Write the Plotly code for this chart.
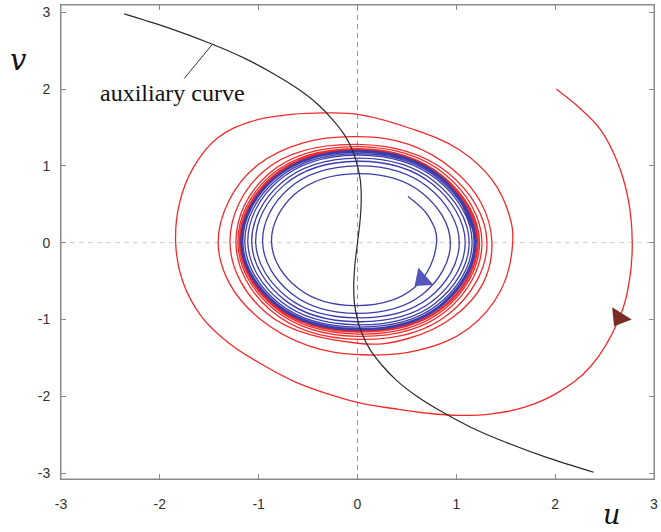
import plotly.graph_objects as go

# ---- phase-plane trajectories (u, v), clockwise ----
# inner trajectory spiralling out onto the limit cycle
blue_u = [0.51, 0.72, 0.80,
          0.580, 0, -0.598, -0.87, -0.633, 0, 0.651, 0.94,
          0.665, 0, -0.665, -0.96, -0.700, 0, 0.718, 1.03,
          0.721, 0, -0.711, -1.03, -0.746, 0, 0.760, 1.09,
          0.760, 0, -0.742, -1.07, -0.774, 0, 0.788, 1.13,
          0.788, 0, -0.771, -1.11, -0.803, 0, 0.813, 1.16,
          0.810, 0, -0.792, -1.14, -0.820, 0, 0.827, 1.18,
          0.824, 0, -0.806, -1.16, -0.834, 0, 0.838, 1.19,
          0.831, 0, -0.813, -1.17, -0.841, 0, 0.845, 1.20,
          0.838, 0, -0.820, -1.18, -0.845, 0, 0.852, 1.21]
blue_v = [0.60, 0.34, 0.0,
          -0.580, -0.82, -0.598, 0, 0.633, 0.90, 0.651, 0,
          -0.665, -0.92, -0.665, 0, 0.700, 1.00, 0.718, 0,
          -0.721, -0.98, -0.711, 0, 0.746, 1.06, 0.760, 0,
          -0.760, -1.03, -0.742, 0, 0.774, 1.10, 0.788, 0,
          -0.788, -1.07, -0.771, 0, 0.803, 1.14, 0.813, 0,
          -0.810, -1.10, -0.792, 0, 0.820, 1.16, 0.827, 0,
          -0.824, -1.12, -0.806, 0, 0.834, 1.18, 0.838, 0,
          -0.831, -1.13, -0.813, 0, 0.841, 1.19, 0.845, 0,
          -0.838, -1.14, -0.820, 0, 0.845, 1.20, 0.852, 0]

# outer trajectory from (2, 2) spiralling in onto the limit cycle
red_u = [2.01, 2.25, 2.46, 2.63, 2.74, 2.78, 2.75, 2.65, 2.36, 2.03, 1.70, 1.36,
         1.03, 0.70, 0.36, 0.03, -0.30, -0.62, -0.96, -1.30, -1.58, -1.77, -1.84,
         -1.80, -1.66, -1.42, -1.07, -0.67, -0.30, 0.03, 0.53, 1.03, 1.36, 1.53, 1.57,
         1.45, 1.12, 0.62, 0.05, -0.50, -0.99, -1.30, -1.41, -1.30, -1.01, -0.55,
         0.0, 0.52, 0.96, 1.25, 1.36,
         1.27, 0.969, 0.52, 0, -0.919, -1.29, -0.940, 0, 0.912, 1.31,
         0.926, 0, -0.880, -1.23, -0.898, 0, 0.887, 1.26,
         0.894, 0, -0.856, -1.21, -0.877, 0, 0.866, 1.235,
         0.873, 0, -0.841, -1.195, -0.863, 0, 0.859, 1.22,
         0.859, 0, -0.831, -1.19, -0.856, 0, 0.856, 1.215,
         0.852, 0, -0.827, -1.185, -0.852, 0, 0.852, 1.21,
         0.849, 0, -0.824, -1.18, -0.849, 0, 0.852, 1.21]
red_v = [2.00, 1.75, 1.47, 1.05, 0.56, 0.0, -0.50, -0.98, -1.61, -1.95, -2.14, -2.23,
         -2.25, -2.22, -2.16, -2.09, -1.97, -1.82, -1.59, -1.31, -0.96, -0.50, 0.0,
         0.52, 0.98, 1.36, 1.58, 1.67, 1.69, 1.665, 1.49, 1.21, 0.82, 0.38, 0.0,
         -0.62, -1.12, -1.40, -1.46, -1.34, -0.99, -0.52, 0.0, 0.55, 1.01, 1.30,
         1.38, 1.28, 0.96, 0.52, 0.0,
         -0.53, -0.969, -1.245, -1.31, -0.919, 0, 0.940, 1.28, 0.912, 0,
         -0.926, -1.26, -0.880, 0, 0.898, 1.25, 0.887, 0,
         -0.894, -1.22, -0.856, 0, 0.877, 1.225, 0.866, 0,
         -0.873, -1.19, -0.841, 0, 0.863, 1.215, 0.859, 0,
         -0.859, -1.165, -0.831, 0, 0.856, 1.205, 0.856, 0,
         -0.852, -1.15, -0.827, 0, 0.852, 1.20, 0.852, 0,
         -0.849, -1.145, -0.824, 0, 0.849, 1.20, 0.852, 0]

# auxiliary curve
aux_u = [-2.36, -1.92, -1.50, -1.14, -0.85, -0.60, -0.40, -0.25, -0.13, -0.05, 0.0,
         0.03, 0.038, 0.027, 0.0, -0.027, -0.038, -0.03, 0.0, 0.05, 0.13, 0.25,
         0.40, 0.60, 0.85, 1.14, 1.50, 1.92, 2.39]
aux_v = [2.98, 2.8, 2.6, 2.4, 2.2, 2.0, 1.8, 1.6, 1.4, 1.2, 1.0,
         0.8, 0.58, 0.3, 0.0, -0.3, -0.58, -0.8, -1.0, -1.2, -1.4, -1.6,
         -1.8, -2.0, -2.2, -2.4, -2.6, -2.8, -2.99]

# direction arrows on the trajectories: position and heading (deg, clockwise from up)
arrow_u = [0.654, 2.649]
arrow_v = [-0.48, -0.977]
arrow_heading = [229, 212]
arrow_colors = ["#5555bb", "#7b2c22"]

# label on the auxiliary curve
aux_label = "auxiliary curve"
aux_label_u, aux_label_v = -1.874, 1.95
aux_touch_u, aux_touch_v = -1.47, 2.58

tick_vals = [-3, -2, -1, 0, 1, 2, 3]
tick_text = ["-3", "-2", "-1", "0", "1", "2", "3"]

RED = "#f22a2a"
BLUE = "#3c3cab"
FRAME = "#8a8a8a"

fig = go.Figure()
fig.add_trace(go.Scatter(x=red_u, y=red_v, mode="lines",
                         line=dict(color=RED, width=1.3, shape="spline", smoothing=1.12)))
fig.add_trace(go.Scatter(x=blue_u, y=blue_v, mode="lines",
                         line=dict(color=BLUE, width=1.3, shape="spline", smoothing=1.12)))
fig.add_trace(go.Scatter(x=aux_u, y=aux_v, mode="lines",
                         line=dict(color="#2a2a2a", width=1.2, shape="spline", smoothing=1.0)))
fig.add_trace(go.Scatter(x=arrow_u, y=arrow_v, mode="markers",
                         marker=dict(symbol="triangle-up", size=20, color=arrow_colors,
                                     angle=arrow_heading, line=dict(width=0))))

axis_common = dict(
    tickvals=tick_vals, ticktext=tick_text, ticks="inside", ticklen=5,
    tickcolor=FRAME, showline=True, linecolor=FRAME, linewidth=1, mirror="ticks",
    showgrid=False, zeroline=False, ticklabeloverflow="allow",
    tickfont=dict(family="Liberation Sans, Arial", size=14, color="#333333"),
)
fig.update_xaxes(range=[-3, 3], ticklabelstandoff=12, **axis_common)
fig.update_yaxes(range=[-3.078, 3.095], ticklabelstandoff=7, **axis_common)

# dashed reference lines through the origin and the plot frame
fig.add_shape(type="line", x0=0, x1=0, y0=0, y1=1, xref="x", yref="paper",
              line=dict(color="#9a9a9a", width=1, dash="5px,4px"), layer="below")
fig.add_shape(type="line", x0=0, x1=1, y0=0, y1=0, xref="paper", yref="y",
              line=dict(color="#cfcfcf", width=1, dash="5px,4px"), layer="below")
fig.add_shape(type="rect", x0=0, x1=1, y0=0, y1=1, xref="paper", yref="paper",
              line=dict(color=FRAME, width=1), layer="above")

fig.add_annotation(x=aux_touch_u, y=aux_touch_v, ax=aux_label_u, ay=aux_label_v,
                   axref="x", ayref="y", text=aux_label, showarrow=True,
                   arrowhead=0, arrowwidth=1, arrowcolor="#333333", standoff=0,
                   font=dict(family="Liberation Serif", size=24, color="#111111"))
fig.add_annotation(x=-0.072, y=0.885, xref="paper", yref="paper", text="v",
                   xanchor="center", yanchor="middle", showarrow=False,
                   font=dict(family="DejaVu Serif", size=29, style="italic", color="#111111"))
fig.add_annotation(x=0.928, y=-0.0755, xref="paper", yref="paper", text="u",
                   xanchor="center", yanchor="middle", showarrow=False,
                   font=dict(family="DejaVu Serif", size=27, style="italic", color="#111111"))

fig.update_layout(
    width=661, height=532,
    margin=dict(l=61, r=3, t=5, b=53),
    plot_bgcolor="white", paper_bgcolor="white",
    showlegend=False,
)

fig.write_html("out.html")
